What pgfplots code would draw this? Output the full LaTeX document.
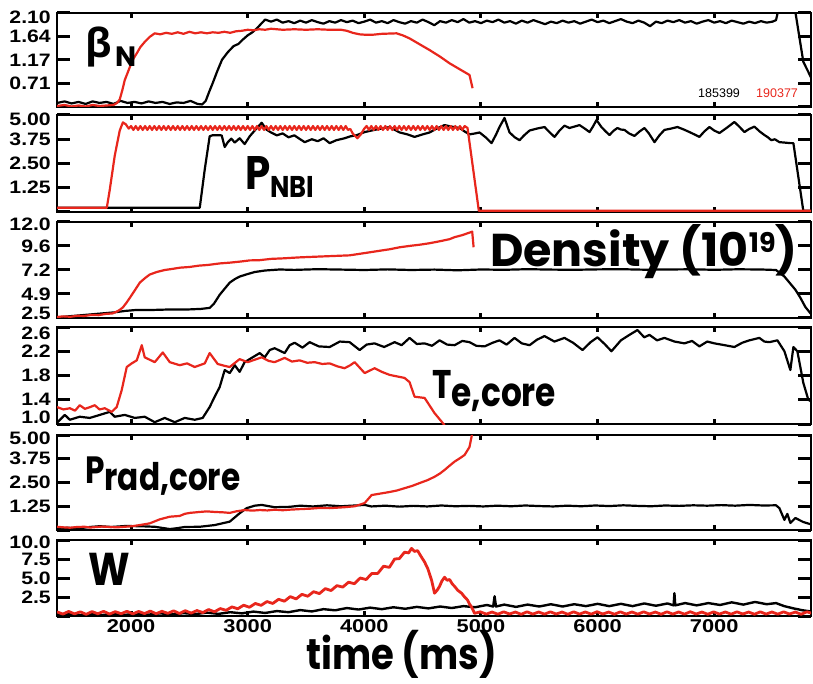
\documentclass[border=0pt]{standalone}
\usepackage{pgfplots}
\usepackage{pgfplotstable}
\pgfplotsset{compat=1.18}
\usepackage{fontspec}
\setmainfont{Liberation Sans}
\newfontfamily\tickfont{Liberation Sans}[FakeStretch=1.18]
\newfontfamily\geo{Poppins}
\newfontfamily\geon{Poppins}[FakeStretch=0.86]
\newfontfamily\geoc{Poppins}[FakeStretch=0.82]
\newfontfamily\grk{Open Sans}
\definecolor{shotred}{RGB}{232,38,28}
% move a tick label vertically without changing its box
\newcommand\shiftlab[2]{\raisebox{#1}[\height][\depth]{#2}}

% ---- beta_N ----
\pgfplotstableread[row sep=\\]{t v\\
1365 0.33\\ 1430 0.36\\ 1490 0.32\\ 1550 0.35\\ 1610 0.31\\ 1670 0.36\\ 1730 0.33\\ 1790 0.35\\ 1850 0.31\\ 1910 0.37\\
1970 0.33\\ 2030 0.35\\ 2090 0.32\\ 2150 0.36\\ 2210 0.33\\ 2270 0.35\\ 2330 0.31\\ 2390 0.34\\ 2450 0.33\\ 2510 0.37\\
2570 0.31\\ 2610 0.30\\ 2640 0.37\\ 2670 0.55\\ 2700 0.72\\ 2740 0.96\\ 2780 1.18\\ 2830 1.33\\ 2880 1.45\\ 2920 1.49\\
2960 1.58\\ 3000 1.66\\ 3040 1.72\\ 3080 1.80\\ 3120 1.90\\ 3150 1.97\\ 3200 1.93\\ 3250 1.97\\ 3300 1.91\\ 3350 1.94\\
3400 1.90\\ 3450 1.95\\ 3500 1.91\\ 3550 1.96\\ 3600 1.92\\ 3650 1.89\\ 3700 1.94\\ 3750 1.91\\ 3800 1.96\\ 3850 1.92\\
3900 1.95\\ 3950 1.90\\ 4000 1.93\\ 4050 1.97\\ 4100 1.91\\ 4150 1.94\\ 4200 1.90\\ 4250 1.96\\ 4300 1.92\\ 4350 1.89\\
4400 1.94\\ 4450 1.91\\ 4500 1.97\\ 4550 1.92\\ 4600 1.86\\ 4650 1.94\\ 4700 1.91\\ 4750 1.96\\ 4800 1.92\\ 4850 1.98\\
4900 1.91\\ 4950 1.94\\ 5000 1.90\\ 5050 1.95\\ 5100 1.92\\ 5150 1.97\\ 5200 1.91\\ 5250 1.94\\ 5300 1.89\\ 5350 1.95\\
5400 1.91\\ 5450 1.96\\ 5500 1.92\\ 5550 1.88\\ 5600 1.93\\ 5650 1.90\\ 5700 1.95\\ 5750 1.91\\ 5800 1.94\\ 5850 1.89\\
5900 1.93\\ 5950 1.97\\ 6000 1.92\\ 6050 1.95\\ 6100 1.90\\ 6150 1.94\\ 6200 1.98\\ 6250 1.93\\ 6300 1.90\\ 6350 1.95\\
6400 1.91\\ 6450 1.84\\ 6500 1.93\\ 6550 1.90\\ 6600 1.95\\ 6650 1.92\\ 6700 1.96\\ 6750 1.91\\ 6800 1.94\\ 6850 1.89\\
6900 1.93\\ 6950 1.96\\ 7000 1.91\\ 7050 1.94\\ 7100 1.90\\ 7150 1.95\\ 7200 1.92\\ 7250 1.89\\ 7300 1.93\\ 7350 1.90\\
7400 1.94\\ 7450 1.91\\ 7500 1.93\\ 7530 1.96\\ 7550 2.16\\ 7600 2.20\\ 7650 2.18\\ 7696 2.12\\ 7764 1.14\\ 7850 0.74\\
}\bnBlack
\pgfplotstableread[row sep=\\]{t v\\
1365 0.27\\ 1430 0.29\\ 1490 0.26\\ 1550 0.28\\ 1610 0.26\\ 1670 0.29\\ 1730 0.27\\ 1790 0.28\\ 1850 0.29\\ 1880 0.33\\
1903 0.40\\ 1925 0.58\\ 1946 0.78\\ 1970 0.92\\ 1990 1.04\\ 2020 1.20\\ 2050 1.31\\ 2080 1.43\\ 2117 1.53\\ 2160 1.63\\
2203 1.70\\ 2250 1.68\\ 2300 1.71\\ 2350 1.69\\ 2400 1.72\\ 2450 1.69\\ 2500 1.73\\ 2550 1.70\\ 2600 1.72\\ 2650 1.70\\
2700 1.72\\ 2750 1.71\\ 2800 1.73\\ 2850 1.71\\ 2900 1.74\\ 2950 1.75\\ 3000 1.77\\ 3050 1.76\\ 3100 1.78\\ 3150 1.77\\
3200 1.79\\ 3300 1.77\\ 3400 1.78\\ 3500 1.77\\ 3600 1.78\\ 3700 1.77\\ 3800 1.77\\ 3850 1.75\\ 3900 1.71\\ 3960 1.68\\
4020 1.67\\ 4063 1.67\\ 4150 1.69\\ 4277 1.70\\ 4330 1.66\\ 4388 1.60\\ 4470 1.49\\ 4560 1.37\\ 4650 1.24\\ 4731 1.11\\
4820 0.99\\ 4902 0.88\\ 4928 0.62\\
}\bnRed

% ---- P_NBI ----
\pgfplotstableread[row sep=\\]{t v\\
1365 0.22\\ 2589 0.22\\ 2632 2.20\\ 2674 3.90\\ 2700 3.96\\ 2777 3.95\\ 2803 3.35\\ 2830 3.60\\ 2860 3.78\\ 2889 3.58\\
2931 3.80\\ 2974 3.50\\ 3017 3.90\\ 3060 4.20\\ 3120 4.60\\ 3160 4.25\\ 3200 4.10\\ 3250 3.95\\ 3300 4.05\\ 3350 3.85\\
3400 3.95\\ 3450 3.75\\ 3489 3.60\\ 3550 3.75\\ 3600 3.65\\ 3650 3.80\\ 3703 3.55\\ 3760 3.70\\ 3831 3.80\\ 3880 3.90\\
3930 3.95\\ 4003 4.12\\ 4100 4.25\\ 4217 4.38\\ 4303 4.10\\ 4370 4.00\\ 4431 3.87\\ 4500 4.00\\ 4560 4.10\\ 4620 4.30\\
4688 4.48\\ 4750 4.40\\ 4817 4.33\\ 4860 4.15\\ 4902 4.00\\ 4950 4.05\\ 4988 4.10\\ 5040 3.85\\ 5091 3.55\\ 5130 4.00\\
5159 4.38\\ 5202 4.85\\ 5245 4.10\\ 5290 3.85\\ 5331 3.70\\ 5370 3.95\\ 5417 4.20\\ 5480 4.30\\ 5545 4.38\\ 5590 4.10\\
5631 3.87\\ 5674 4.20\\ 5716 4.45\\ 5759 4.33\\ 5800 4.40\\ 5845 4.48\\ 5890 4.30\\ 5931 4.12\\ 5960 4.40\\ 5991 4.74\\
6033 4.38\\ 6070 4.15\\ 6102 3.97\\ 6140 4.20\\ 6170 4.33\\ 6200 4.25\\ 6231 4.23\\ 6270 4.05\\ 6316 3.92\\ 6360 4.15\\
6402 4.33\\ 6440 4.05\\ 6488 3.60\\ 6530 3.95\\ 6573 4.23\\ 6630 4.30\\ 6685 4.38\\ 6740 4.25\\ 6788 4.12\\ 6830 4.00\\
6873 3.87\\ 6915 4.15\\ 6959 4.38\\ 7000 4.20\\ 7045 4.07\\ 7110 4.35\\ 7173 4.64\\ 7215 4.40\\ 7259 4.12\\ 7300 4.28\\
7345 4.40\\ 7390 4.15\\ 7430 3.97\\ 7460 3.85\\ 7490 3.70\\ 7520 3.75\\ 7559 3.60\\ 7600 3.58\\ 7653 3.55\\ 7679 3.55\\
7764 0.06\\ 7850 0.06\\
}\pnBlack
\pgfplotstableread[row sep=\\]{t v\\
1365 0.22\\ 1792 0.22\\ 1817 1.13\\ 1860 2.90\\ 1903 4.20\\ 1930 4.62\\ 1955 4.52\\ 1980 4.30\\
2000 4.43\\ 2020 4.23\\ 2040 4.43\\ 2060 4.23\\ 2080 4.43\\ 2100 4.23\\ 2120 4.43\\ 2140 4.23\\ 2160 4.43\\ 2180 4.23\\
2200 4.43\\ 2220 4.23\\ 2240 4.43\\ 2260 4.23\\ 2280 4.43\\ 2300 4.23\\ 2320 4.43\\ 2340 4.23\\ 2360 4.43\\ 2380 4.23\\
2400 4.43\\ 2420 4.23\\ 2440 4.43\\ 2460 4.23\\ 2480 4.43\\ 2500 4.23\\ 2520 4.43\\ 2540 4.23\\ 2560 4.43\\ 2580 4.23\\
2600 4.43\\ 2620 4.23\\ 2640 4.43\\ 2660 4.23\\ 2680 4.43\\ 2700 4.23\\ 2720 4.43\\ 2740 4.23\\ 2760 4.43\\ 2780 4.23\\
2800 4.43\\ 2820 4.23\\ 2840 4.43\\ 2860 4.23\\ 2880 4.43\\ 2900 4.23\\ 2920 4.43\\ 2940 4.23\\ 2960 4.43\\ 2980 4.23\\
3000 4.43\\ 3020 4.23\\ 3040 4.43\\ 3060 4.23\\ 3080 4.43\\ 3100 4.23\\ 3120 4.43\\ 3140 4.23\\ 3160 4.43\\ 3180 4.23\\
3200 4.43\\ 3220 4.23\\ 3240 4.43\\ 3260 4.23\\ 3280 4.43\\ 3300 4.23\\ 3320 4.43\\ 3340 4.23\\ 3360 4.43\\ 3380 4.23\\
3400 4.43\\ 3420 4.23\\ 3440 4.43\\ 3460 4.23\\ 3480 4.43\\ 3500 4.23\\ 3520 4.43\\ 3540 4.23\\ 3560 4.43\\ 3580 4.23\\
3600 4.43\\ 3620 4.23\\ 3640 4.43\\ 3660 4.23\\ 3680 4.43\\ 3700 4.23\\ 3720 4.43\\ 3740 4.23\\ 3760 4.43\\ 3780 4.23\\
3800 4.43\\ 3820 4.23\\ 3840 4.43\\ 3860 4.23\\ 3880 4.28\\ 3900 4.05\\ 3940 3.80\\ 3970 4.00\\ 4000 4.30\\
4020 4.43\\ 4040 4.23\\ 4060 4.43\\ 4080 4.23\\ 4100 4.43\\ 4120 4.23\\ 4140 4.43\\ 4160 4.23\\ 4180 4.43\\ 4200 4.23\\
4220 4.43\\ 4240 4.23\\ 4260 4.43\\ 4280 4.23\\ 4300 4.43\\ 4320 4.23\\ 4340 4.43\\ 4360 4.23\\ 4380 4.43\\ 4400 4.23\\
4420 4.43\\ 4440 4.23\\ 4460 4.43\\ 4480 4.23\\ 4500 4.43\\ 4520 4.23\\ 4540 4.43\\ 4560 4.23\\ 4580 4.43\\ 4600 4.23\\
4620 4.43\\ 4640 4.23\\ 4660 4.43\\ 4680 4.23\\ 4700 4.43\\ 4720 4.23\\ 4740 4.43\\ 4760 4.23\\ 4780 4.43\\ 4800 4.23\\
4820 4.43\\ 4840 4.23\\ 4860 4.43\\ 4885 4.33\\ 4982 0.06\\ 7850 0.06\\
}\pnRed

% ---- density ----
\pgfplotstableread[row sep=\\]{t v\\
1365 2.55\\ 1450 2.65\\ 1550 2.75\\ 1650 2.85\\ 1750 2.95\\ 1850 3.05\\ 1950 3.20\\ 2050 3.30\\ 2200 3.30\\ 2350 3.35\\
2500 3.35\\ 2600 3.40\\ 2674 3.50\\ 2710 3.90\\ 2760 4.80\\ 2810 5.50\\ 2846 6.00\\ 2890 6.35\\ 2931 6.60\\ 3000 6.85\\
3060 7.05\\ 3150 7.20\\ 3274 7.30\\ 3400 7.26\\ 3600 7.33\\ 3800 7.29\\ 4000 7.25\\ 4200 7.31\\ 4400 7.25\\ 4600 7.29\\
4800 7.22\\ 5000 7.30\\ 5200 7.27\\ 5400 7.33\\ 5600 7.29\\ 5800 7.27\\ 6000 7.31\\ 6200 7.33\\ 6400 7.28\\ 6600 7.30\\
6800 7.32\\ 7000 7.27\\ 7200 7.32\\ 7400 7.30\\ 7530 7.25\\ 7602 6.60\\ 7696 5.30\\ 7739 4.50\\ 7781 3.60\\ 7850 2.60\\
}\neBlack
\pgfplotstableread[row sep=\\]{t v\\
1365 2.60\\ 1420 2.66\\ 1480 2.62\\ 1540 2.72\\ 1600 2.70\\ 1660 2.80\\ 1720 2.78\\ 1780 2.90\\ 1840 2.95\\ 1880 3.15\\
1903 3.30\\ 1930 3.55\\ 1960 4.00\\ 1990 4.50\\ 2030 5.20\\ 2075 6.00\\ 2120 6.45\\ 2160 6.80\\ 2220 7.05\\ 2289 7.25\\
2350 7.35\\ 2420 7.48\\ 2503 7.55\\ 2580 7.68\\ 2660 7.75\\ 2760 7.90\\ 2850 7.98\\ 2950 8.10\\ 3017 8.20\\ 3100 8.22\\
3200 8.35\\ 3300 8.40\\ 3446 8.50\\ 3550 8.55\\ 3700 8.62\\ 3874 8.70\\ 3960 8.85\\ 4046 9.00\\ 4130 9.15\\ 4217 9.30\\
4303 9.50\\ 4400 9.65\\ 4474 9.75\\ 4560 9.90\\ 4650 10.10\\ 4731 10.30\\ 4774 10.50\\ 4840 10.70\\ 4902 10.95\\ 4925 11.05\\
4937 9.50\\
}\neRed

% ---- T_e,core ----
\pgfplotstableread[row sep=\\]{t v\\
1365 1.02\\ 1432 1.15\\ 1475 1.07\\ 1560 1.12\\ 1646 1.10\\ 1732 1.15\\ 1817 1.20\\ 1860 1.12\\ 1946 1.15\\ 2032 1.10\\
2117 1.12\\ 2203 1.03\\ 2289 1.10\\ 2375 1.03\\ 2460 1.10\\ 2546 1.07\\ 2614 1.10\\ 2674 1.28\\ 2717 1.45\\ 2760 1.61\\
2803 1.89\\ 2846 1.84\\ 2889 1.97\\ 2931 1.86\\ 2974 2.02\\ 3034 2.09\\ 3103 2.17\\ 3146 2.10\\ 3189 2.22\\ 3231 2.25\\
3317 2.17\\ 3360 2.30\\ 3403 2.34\\ 3470 2.26\\ 3531 2.35\\ 3610 2.28\\ 3703 2.27\\ 3790 2.36\\ 3874 2.35\\ 3920 2.28\\
3960 2.22\\ 4020 2.31\\ 4088 2.33\\ 4170 2.27\\ 4260 2.35\\ 4320 2.30\\ 4388 2.42\\ 4450 2.32\\ 4517 2.33\\ 4580 2.29\\
4645 2.38\\ 4710 2.31\\ 4774 2.30\\ 4840 2.37\\ 4902 2.35\\ 4960 2.29\\ 5031 2.28\\ 5100 2.34\\ 5159 2.38\\ 5220 2.31\\
5288 2.42\\ 5350 2.33\\ 5417 2.30\\ 5480 2.39\\ 5545 2.45\\ 5630 2.36\\ 5716 2.42\\ 5790 2.34\\ 5871 2.22\\ 5940 2.35\\
5999 2.43\\ 6060 2.32\\ 6119 2.20\\ 6200 2.38\\ 6273 2.47\\ 6342 2.55\\ 6400 2.43\\ 6445 2.47\\ 6510 2.38\\ 6573 2.42\\
6660 2.36\\ 6745 2.33\\ 6810 2.37\\ 6873 2.28\\ 6940 2.36\\ 7002 2.33\\ 7090 2.30\\ 7173 2.27\\ 7240 2.34\\ 7302 2.38\\
7387 2.42\\ 7430 2.36\\ 7473 2.35\\ 7542 2.38\\ 7602 2.20\\ 7653 1.89\\ 7679 2.27\\ 7713 2.20\\ 7764 1.68\\ 7807 1.40\\
7850 1.35\\
}\teBlack
\pgfplotstableread[row sep=\\]{t v\\
1365 1.28\\ 1420 1.24\\ 1475 1.26\\ 1520 1.22\\ 1560 1.31\\ 1604 1.25\\ 1650 1.28\\ 1689 1.31\\ 1730 1.24\\ 1775 1.26\\
1834 1.20\\ 1877 1.28\\ 1920 1.56\\ 1963 1.94\\ 2006 2.00\\ 2049 2.05\\ 2092 2.30\\ 2117 2.10\\ 2160 2.06\\ 2203 2.02\\
2272 2.18\\ 2332 2.02\\ 2417 1.97\\ 2480 2.00\\ 2546 1.94\\ 2632 2.00\\ 2674 2.17\\ 2743 1.99\\ 2800 1.96\\ 2846 1.94\\
2931 2.07\\ 3000 2.02\\ 3060 2.06\\ 3120 2.10\\ 3180 2.04\\ 3231 2.02\\ 3317 2.09\\ 3380 2.03\\ 3446 2.05\\ 3510 2.01\\
3574 2.02\\ 3640 1.99\\ 3703 2.00\\ 3770 1.95\\ 3831 1.92\\ 3880 1.97\\ 3917 2.02\\ 4003 1.84\\ 4088 1.92\\ 4150 1.86\\
4217 1.81\\ 4345 1.76\\ 4388 1.69\\ 4431 1.45\\ 4517 1.43\\ 4602 1.18\\ 4688 0.98\\
}\teRed

% ---- P_rad,core ----
\pgfplotstableread[row sep=\\]{t v\\
1365 0.05\\ 1450 0.12\\ 1550 0.09\\ 1650 0.16\\ 1732 0.20\\ 1830 0.16\\ 1950 0.21\\ 2075 0.20\\ 2203 0.17\\ 2290 0.09\\
2332 0.05\\ 2400 0.10\\ 2460 0.16\\ 2589 0.17\\ 2717 0.26\\ 2846 0.44\\ 2931 0.88\\ 2991 1.15\\ 3060 1.28\\ 3120 1.32\\
3231 1.20\\ 3360 1.22\\ 3450 1.28\\ 3560 1.24\\ 3680 1.30\\ 3800 1.25\\ 3920 1.29\\ 4003 1.32\\ 4060 1.24\\ 4180 1.28\\
4300 1.23\\ 4420 1.27\\ 4540 1.24\\ 4660 1.29\\ 4780 1.25\\ 4900 1.27\\ 5020 1.24\\ 5140 1.28\\ 5260 1.25\\ 5380 1.29\\
5500 1.26\\ 5620 1.24\\ 5740 1.28\\ 5860 1.25\\ 5980 1.29\\ 6100 1.26\\ 6220 1.30\\ 6340 1.27\\ 6460 1.25\\ 6580 1.29\\
6700 1.27\\ 6820 1.30\\ 6940 1.28\\ 7060 1.31\\ 7180 1.28\\ 7300 1.32\\ 7420 1.29\\ 7530 1.30\\ 7559 1.15\\ 7602 0.53\\
7627 0.85\\ 7653 0.37\\ 7696 0.63\\ 7764 0.42\\ 7850 0.26\\
}\prBlack
\pgfplotstableread[row sep=\\]{t v\\
1365 0.17\\ 1420 0.14\\ 1475 0.12\\ 1540 0.16\\ 1604 0.17\\ 1650 0.13\\ 1689 0.15\\ 1750 0.18\\ 1817 0.16\\ 1880 0.14\\
1946 0.17\\ 2010 0.20\\ 2075 0.26\\ 2160 0.35\\ 2246 0.56\\ 2332 0.70\\ 2417 0.74\\ 2460 0.85\\ 2503 0.90\\ 2589 0.95\\
2650 0.98\\ 2717 0.95\\ 2790 0.93\\ 2846 0.90\\ 2900 0.98\\ 2974 1.05\\ 3040 1.02\\ 3103 1.05\\ 3170 1.03\\ 3231 1.07\\
3300 1.04\\ 3360 1.07\\ 3450 1.10\\ 3530 1.12\\ 3617 1.16\\ 3700 1.15\\ 3780 1.18\\ 3831 1.20\\ 3920 1.25\\ 4003 1.42\\
4063 1.84\\ 4140 1.92\\ 4217 2.00\\ 4280 2.08\\ 4345 2.20\\ 4410 2.32\\ 4474 2.47\\ 4540 2.62\\ 4602 2.80\\ 4650 2.98\\
4688 3.16\\ 4730 3.38\\ 4774 3.60\\ 4820 3.78\\ 4860 3.95\\ 4902 4.37\\ 4919 4.90\\ 4925 5.10\\
}\prRed

% ---- W ----
\pgfplotstableread[row sep=\\]{t v\\
1365 0.15\\ 1450 0.30\\ 1550 0.10\\ 1650 0.28\\ 1750 0.12\\ 1850 0.30\\ 1950 0.15\\ 2050 0.32\\ 2150 0.18\\ 2250 0.35\\
2350 0.20\\ 2450 0.38\\ 2550 0.25\\ 2650 0.45\\ 2750 0.28\\ 2850 0.50\\ 2950 0.35\\ 3050 0.58\\ 3150 0.40\\ 3250 0.65\\
3350 0.50\\ 3450 0.78\\ 3550 0.60\\ 3650 0.90\\ 3750 0.75\\ 3850 1.05\\ 3950 0.85\\ 4050 1.10\\ 4150 0.90\\ 4250 1.15\\
4350 0.95\\ 4450 1.20\\ 4550 1.00\\ 4650 1.25\\ 4750 1.05\\ 4850 1.30\\ 4950 1.15\\ 5050 1.45\\ 5105 1.25\\ 5117 2.60\\
5129 1.25\\ 5200 1.50\\ 5300 1.20\\ 5400 1.50\\ 5500 1.25\\ 5600 1.55\\ 5700 1.25\\ 5800 1.55\\ 5900 1.30\\ 6000 1.60\\
6100 1.30\\ 6200 1.60\\ 6300 1.30\\ 6400 1.65\\ 6500 1.35\\ 6600 1.65\\ 6652 1.40\\ 6659 3.00\\ 6666 1.40\\ 6750 1.70\\
6850 1.40\\ 6950 1.70\\ 7050 1.45\\ 7150 1.80\\ 7250 1.50\\ 7350 1.85\\ 7450 1.55\\ 7530 1.70\\ 7600 1.30\\ 7680 1.00\\
7760 0.75\\ 7850 0.55\\
}\wBlack
\pgfplotstableread[row sep=\\]{t v\\
1365 0.55\\ 1415 0.25\\ 1465 0.60\\ 1515 0.28\\ 1565 0.55\\ 1615 0.22\\ 1665 0.58\\ 1715 0.30\\ 1765 0.62\\ 1815 0.25\\
1865 0.57\\ 1915 0.30\\ 1965 0.62\\ 2015 0.28\\ 2065 0.60\\ 2115 0.32\\ 2165 0.65\\ 2215 0.30\\ 2265 0.62\\ 2315 0.35\\
2365 0.68\\ 2415 0.33\\ 2465 0.70\\ 2515 0.38\\ 2565 0.72\\ 2615 0.45\\ 2665 0.85\\ 2715 0.55\\ 2765 0.98\\ 2815 0.75\\
2865 1.20\\ 2915 0.95\\ 2965 1.42\\ 3015 1.15\\ 3065 1.65\\ 3115 1.40\\ 3165 1.90\\ 3215 1.65\\ 3265 2.20\\ 3315 1.95\\
3365 2.55\\ 3415 2.25\\ 3465 2.85\\ 3515 2.60\\ 3565 3.20\\ 3615 2.95\\ 3665 3.60\\ 3715 3.35\\ 3765 4.00\\ 3815 3.80\\
3865 4.45\\ 3915 4.25\\ 3965 5.00\\ 4015 4.80\\ 4065 5.60\\ 4115 5.60\\ 4165 6.55\\ 4215 6.40\\ 4260 7.50\\ 4300 7.55\\
4345 8.40\\ 4380 8.30\\ 4405 8.90\\ 4430 8.50\\ 4457 8.60\\ 4480 8.00\\ 4517 7.10\\ 4545 6.20\\ 4577 4.70\\ 4602 3.00\\
4625 3.40\\ 4645 3.90\\ 4665 4.60\\ 4688 5.10\\ 4710 4.70\\ 4731 4.80\\ 4755 4.20\\ 4774 3.90\\ 4800 3.40\\ 4834 3.00\\
4860 2.50\\ 4885 2.10\\ 4905 1.50\\ 4919 1.20\\ 4935 0.70\\ 4945 0.35\\ 4995 0.55\\ 5045 0.25\\ 5095 0.52\\ 5145 0.24\\
5195 0.55\\ 5245 0.26\\ 5295 0.52\\ 5345 0.22\\ 5395 0.55\\ 5445 0.25\\ 5495 0.53\\ 5545 0.24\\ 5595 0.55\\ 5645 0.26\\
5695 0.52\\ 5745 0.23\\ 5795 0.55\\ 5845 0.25\\ 5895 0.53\\ 5945 0.24\\ 5995 0.56\\ 6045 0.26\\ 6095 0.52\\ 6145 0.23\\
6195 0.55\\ 6245 0.25\\ 6295 0.53\\ 6345 0.24\\ 6395 0.55\\ 6445 0.26\\ 6495 0.52\\ 6545 0.23\\ 6595 0.55\\ 6645 0.25\\
6695 0.53\\ 6745 0.24\\ 6795 0.56\\ 6845 0.26\\ 6895 0.52\\ 6945 0.23\\ 6995 0.55\\ 7045 0.25\\ 7095 0.53\\ 7145 0.24\\
7195 0.55\\ 7245 0.26\\ 7295 0.52\\ 7345 0.23\\ 7395 0.55\\ 7445 0.25\\ 7495 0.53\\ 7545 0.24\\ 7595 0.55\\ 7645 0.26\\
7695 0.52\\ 7745 0.23\\ 7795 0.55\\ 7850 0.30\\
}\wRed

\pgfplotsset{
  panel/.style={
    scale only axis, width=754pt, xmin=1365, xmax=7830,
    axis line style={line width=2.8pt},
    tick align=inside,
    every tick/.style={black, line width=3pt},
    major tick style={black, line width=3pt},
    xtick={2000,3000,4000,5000,6000,7000},
    xticklabels={},
    xtick style={/pgfplots/major tick length=5pt},
    ytick style={/pgfplots/major tick length=13pt},
    yticklabel style={font=\tickfont\bfseries\fontsize{18}{18}\selectfont, inner sep=0pt, xshift=-6pt},
    xticklabel style={font=\tickfont\bfseries\fontsize{18.5}{18.5}\selectfont},
    /pgf/number format/assume math mode=true,
    clip=true,
  },
  blk/.style={black, line width=2.2pt, line join=round},
  rd/.style={shotred, line width=2.2pt, line join=round},
}

\begin{document}
\begin{tikzpicture}
\path[use as bounding box] (0pt,0pt) rectangle (813pt,-684pt);

\begin{axis}[panel, at={(57pt,-13pt)}, anchor=north west, height=94pt,
  ymin=0.25, ymax=2.10, ytick={0.25,0.7125,1.175,1.6375,2.10},
  yticklabels={,0.71,1.17,1.64,\shiftlab{-4pt}{2.10}}]
  \addplot[blk] table[x=t,y=v] {\bnBlack};
  \addplot[rd] table[x=t,y=v] {\bnRed};
\end{axis}

\begin{axis}[panel, at={(57pt,-115pt)}, anchor=north west, height=97pt,
  ymin=0, ymax=5, ytick={0,1.25,2.5,3.75,5},
  yticklabels={,1.25,2.50,3.75,\shiftlab{-4pt}{5.00}}]
  \addplot[blk] table[x=t,y=v] {\pnBlack};
  \addplot[rd] table[x=t,y=v] {\pnRed};
\end{axis}

\begin{axis}[panel, at={(57pt,-222pt)}, anchor=north west, height=96pt,
  ymin=2.5, ymax=12, ytick={2.5,4.875,7.25,9.625,12},
  yticklabels={\shiftlab{5pt}{2.5},4.9,7.2,9.6,\shiftlab{-2pt}{12.0}}]
  \addplot[blk] table[x=t,y=v] {\neBlack};
  \addplot[rd] table[x=t,y=v] {\neRed};
\end{axis}

\begin{axis}[panel, at={(57pt,-327pt)}, anchor=north west, height=97pt,
  ymin=1.0, ymax=2.6, ytick={1.0,1.4,1.8,2.2,2.6},
  yticklabels={\shiftlab{7pt}{1.0},1.4,1.8,2.2,\shiftlab{-6pt}{2.6}}]
  \addplot[blk] table[x=t,y=v] {\teBlack};
  \addplot[rd] table[x=t,y=v] {\teRed};
\end{axis}

\begin{axis}[panel, at={(57pt,-435pt)}, anchor=north west, height=95pt,
  ymin=0, ymax=5, ytick={0,1.25,2.5,3.75,5},
  yticklabels={,1.25,2.50,3.75,\shiftlab{-3pt}{5.00}}]
  \addplot[blk] table[x=t,y=v] {\prBlack};
  \addplot[rd] table[x=t,y=v] {\prRed};
\end{axis}

\begin{axis}[panel, at={(57pt,-540pt)}, anchor=north west, height=76pt,
  ymin=0, ymax=10, ytick={0,2.5,5,7.5,10},
  yticklabels={,2.5,5.0,7.5,\shiftlab{-2pt}{10.0}},
  xticklabels={2000,3000,4000,5000,6000,7000}]
  \addplot[blk, line width=2.4pt] table[x=t,y=v] {\wBlack};
  \addplot[rd, line width=2.8pt] table[x=t,y=v] {\wRed};
\end{axis}

% panel titles and shot numbers
\node[anchor=base west, inner sep=0pt] at (85pt,-58pt) {\grk\bfseries\fontsize{40}{40}\selectfont β};
\node[anchor=base west, inner sep=0pt] at (115pt,-67pt) {\geo\bfseries\fontsize{28}{28}\selectfont N};
\node[anchor=base west, inner sep=0pt] at (698pt,-98pt) {\fontsize{12.5}{12.5}\selectfont 185399};
\node[anchor=base west, inner sep=0pt, text=shotred] at (756pt,-98pt) {\fontsize{12.5}{12.5}\selectfont 190377};
\node[anchor=base west, inner sep=0pt] at (245pt,-190pt) {\geon\bfseries\fontsize{47}{47}\selectfont P};
\node[anchor=base west, inner sep=0pt] at (270pt,-198pt) {\geon\bfseries\fontsize{30}{30}\selectfont NBI};
\node[anchor=base west, inner sep=0pt] at (490pt,-267pt) {\geo\bfseries\fontsize{46}{46}\selectfont Density (10\raisebox{14pt}{\fontsize{27}{27}\selectfont 19})};
\node[anchor=base west, inner sep=0pt] at (432pt,-398pt) {\geoc\bfseries\fontsize{40}{40}\selectfont T\raisebox{-8pt}{e,core}};
\node[anchor=base west, inner sep=0pt] at (85pt,-483pt) {\geoc\bfseries\fontsize{38}{38}\selectfont P\raisebox{-7pt}{rad,core}};
\node[anchor=base west, inner sep=0pt] at (88pt,-585pt) {\geon\bfseries\fontsize{46}{46}\selectfont W};
\node[anchor=base west, inner sep=0pt] at (306pt,-669pt) {\geon\bfseries\fontsize{43}{43}\selectfont time (ms)};
\end{tikzpicture}
\end{document}
